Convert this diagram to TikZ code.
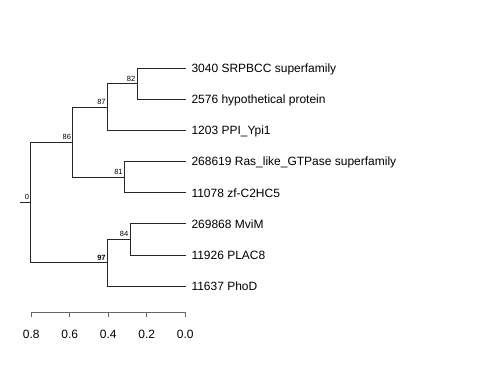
\documentclass[tikz,border=0pt]{standalone}
\usepackage{fontspec}
\setmainfont{Liberation Sans}
\usepackage{tikz}
\usetikzlibrary{positioning,calc}

\begin{document}
\begin{tikzpicture}[x=1pt,y=-1pt, line cap=rect, line join=miter]
				\useasboundingbox (0,0) rectangle (480,384);
				
				% ===== style =====
				\tikzset{
					branch/.style={draw=black!85, line width=0.8pt},
					boot/.style={font=\fontsize{7.5}{8}\selectfont, anchor=south east, inner sep=0pt, xshift=-1.5pt, yshift=2.3pt},
					tiplab/.style={font=\fontsize{12}{14}\selectfont, anchor=base west, inner sep=0pt},
					ticklab/.style={font=\fontsize{12}{14}\selectfont, anchor=base, inner sep=0pt}
				}
				
				% ===== lá + nhãn =====
				\foreach \y/\lab [count=\i] in {68.3/{3040 SRPBCC superfamily},
					99.4/{2576 hypothetical protein},
					130.5/{1203 PPI\_Ypi1},
					161.6/{268619 Ras\_like\_GTPase superfamily},
					192.7/{11078 zf-C2HC5},
					223.8/{269868 MviM},
					254.9/{11926 PLAC8},
					286.0/{11637 PhoD}}{
					\coordinate (t\i) at (185.3,\y);
					\node[tiplab] (lab\i) at (191.3,\y+4.3) {\lab};
				}
				
				% ===== nút trong =====
				\coordinate (n82) at (137.0,83.85);
				\coordinate (n87) at (107.3,107.2);
				\coordinate (n81) at (124.3,177.15);
				\coordinate (n86) at (72.7,142.2);
				\coordinate (n84) at (130.0,239.35);
				\coordinate (n97) at (107.3,262.7);
				\coordinate (root) at (30.7,202.45);
				\coordinate (stub) at (20.7,202.45);
				
				% ===== nhánh =====
				\draw[branch] (n82) |- (t1);  \draw[branch] (n82) |- (t2);
				\draw[branch] (n87) |- (n82); \draw[branch] (n87) |- (t3);
				\draw[branch] (n81) |- (t4);  \draw[branch] (n81) |- (t5);
				\draw[branch] (n86) |- (n87); \draw[branch] (n86) |- (n81);
				\draw[branch] (n84) |- (t6);  \draw[branch] (n84) |- (t7);
				\draw[branch] (n97) |- (n84); \draw[branch] (n97) |- (t8);
				\draw[branch] (root) |- (n86); \draw[branch] (root) |- (n97);
				\draw[branch] (stub) -- (root);
				
				% ===== bootstrap =====
				\node[boot] (b82) at (n82) {82};
				\node[boot] (b87) at (n87) {87};
				\node[boot] (b81) at (n81) {81};
				\node[boot] (b86) at (n86) {86};
				\node[boot] (b84) at (n84) {84};
				\node[boot, font=\fontsize{7.5}{8}\selectfont\bfseries] (b97) at (n97) {97};
				\node[boot] (b0) at (root) {0};
				
				% ===== trục =====
				\coordinate (ax0) at (31.3,312.3);
				\coordinate (ax1) at (185.3,312.3);
				\draw[branch, draw=black!60] (ax0) -- (ax1);
				\foreach \v [count=\j] in {0.8,0.6,0.4,0.2,0.0}{
					\coordinate (tk\j) at ({185.3-192.5*\v},312.3);
					\draw[branch, draw=black!60] (tk\j) -- ++(0,4.7);
					\node[ticklab] (tl\j) at ($(tk\j)+(0,26)$) {\v};
				}
			\end{tikzpicture}
\end{document}
